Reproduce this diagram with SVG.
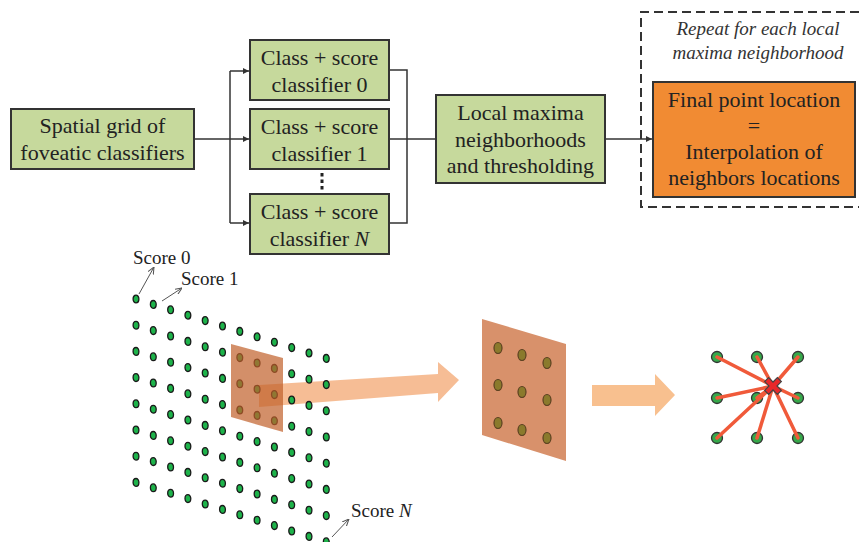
<svg xmlns="http://www.w3.org/2000/svg" xmlns:xlink="http://www.w3.org/1999/xlink" width="859" height="542" viewBox="0 0 859 542">
  <style>
    .box { fill: #c6d99c; stroke: #333; stroke-width: 2; }
    .obox { fill: #f18b33; stroke: #333; stroke-width: 2; }
    text { font-family: 'Liberation Serif', 'DejaVu Serif', serif; }
    .lbl { font-size: 22px; fill: #222; text-anchor: middle; }
    .note { font-size: 19px; font-style: italic; fill: #333; text-anchor: middle; }
    .score { font-size: 19px; fill: #222; }
    .wire { fill: none; stroke: #333; stroke-width: 1.5; }
    .thin { fill: none; stroke: #555; stroke-width: 1; }
    .gdot { fill: #1db34a; stroke: #1a1a1a; stroke-width: 1.3; }
    .odot { fill: #8a7a2c; stroke: #5a4020; stroke-width: 1.2; }
    .rdot { fill: #36a84a; stroke: #333; stroke-width: 1.3; }
    .ray { stroke: #f05a3a; stroke-width: 3.5; stroke-linecap: round; }
  </style>
  <defs>
    <marker id="ah" viewBox="0 0 6 6" refX="6" refY="3" markerWidth="6" markerHeight="6" markerUnits="userSpaceOnUse" orient="auto">
      <path d="M0,0 L6,3 L0,6 Z" fill="#333"/>
    </marker>
    <marker id="ahs" viewBox="0 0 8 8" refX="8" refY="4" markerWidth="7" markerHeight="7" markerUnits="userSpaceOnUse" orient="auto">
      <path d="M0,0.5 L8,4 L0,7.5" fill="none" stroke="#555" stroke-width="1.2"/>
    </marker>
    <!-- one column of score dots, 8 rows -->
    <g id="col">
      <ellipse class="gdot" cx="0" cy="0" rx="2.9" ry="3.9"/>
      <ellipse class="gdot" cx="0" cy="26.2" rx="2.9" ry="3.9"/>
      <ellipse class="gdot" cx="0" cy="52.4" rx="2.9" ry="3.9"/>
      <ellipse class="gdot" cx="0" cy="78.6" rx="2.9" ry="3.9"/>
      <ellipse class="gdot" cx="0" cy="104.8" rx="2.9" ry="3.9"/>
      <ellipse class="gdot" cx="0" cy="131" rx="2.9" ry="3.9"/>
      <ellipse class="gdot" cx="0" cy="157.2" rx="2.9" ry="3.9"/>
      <ellipse class="gdot" cx="0" cy="183.4" rx="2.9" ry="3.9"/>
    </g>
  </defs>

  <!-- connectors -->
  <g id="connectors">
    <path class="wire" d="M194,139 H249" marker-end="url(#ah)"/>
    <path class="wire" d="M230,71 V223"/>
    <path class="wire" d="M230,71 H249" marker-end="url(#ah)"/>
    <path class="wire" d="M230,223 H249" marker-end="url(#ah)"/>
    <path class="wire" d="M389,70 H407 V223 H389"/>
    <path class="wire" d="M389,139 H436"/>
    <path class="wire" d="M605,139 H652" marker-end="url(#ah)"/>
  </g>

  <!-- flow nodes -->
  <g id="spatial-grid">
    <rect class="box" x="11" y="109" width="183" height="60"/>
    <text class="lbl" x="102.5" y="133">Spatial grid of</text>
    <text class="lbl" x="102.5" y="160">foveatic classifiers</text>
  </g>
  <g id="classifier-0">
    <rect class="box" x="250" y="40" width="139" height="60"/>
    <text class="lbl" x="319.5" y="65">Class + score</text>
    <text class="lbl" x="319.5" y="92">classifier 0</text>
  </g>
  <g id="classifier-1">
    <rect class="box" x="250" y="109" width="139" height="60"/>
    <text class="lbl" x="319.5" y="134">Class + score</text>
    <text class="lbl" x="319.5" y="161">classifier 1</text>
  </g>
  <g id="ellipsis">
    <rect x="320.5" y="173" width="3" height="3.5" fill="#222"/>
    <rect x="320.5" y="179.5" width="3" height="3.5" fill="#222"/>
    <rect x="320.5" y="186" width="3" height="3.5" fill="#222"/>
  </g>
  <g id="classifier-n">
    <rect class="box" x="250" y="194" width="139" height="60"/>
    <text class="lbl" x="319.5" y="219">Class + score</text>
    <text class="lbl" x="319.5" y="246">classifier <tspan font-style="italic">N</tspan></text>
  </g>
  <g id="local-maxima">
    <rect class="box" x="436" y="95" width="169" height="88"/>
    <text class="lbl" x="520.5" y="120">Local maxima</text>
    <text class="lbl" x="520.5" y="147">neighborhoods</text>
    <text class="lbl" x="520.5" y="173">and thresholding</text>
  </g>
  <g id="repeat-region">
    <path d="M859,12 H641 V207 H859" fill="none" stroke="#333" stroke-width="2" stroke-dasharray="9 5"/>
    <text class="note" x="758" y="35">Repeat for each local</text>
    <text class="note" x="758" y="59">maxima neighborhood</text>
  </g>
  <g id="final-point">
    <rect class="obox" x="653" y="82" width="202" height="115"/>
    <text class="lbl" x="754" y="107">Final point location</text>
    <text class="lbl" x="754" y="133">=</text>
    <text class="lbl" x="754" y="159">Interpolation of</text>
    <text class="lbl" x="754" y="185">neighbors locations</text>
  </g>

  <!-- score grid with selected neighborhood -->
  <g id="score-grid">
    <path d="M259,385 L438,374 L438,362 L459,380 L438,402 L438,393 L259,407 Z" fill="#f4b183" opacity="0.85"/>
    <use xlink:href="#col" x="136" y="299"/>
    <use xlink:href="#col" x="153.3" y="304.4"/>
    <use xlink:href="#col" x="170.6" y="309.8"/>
    <use xlink:href="#col" x="187.9" y="315.2"/>
    <use xlink:href="#col" x="205.2" y="320.6"/>
    <use xlink:href="#col" x="222.5" y="326"/>
    <use xlink:href="#col" x="239.8" y="331.4"/>
    <use xlink:href="#col" x="257.1" y="336.8"/>
    <use xlink:href="#col" x="274.4" y="342.2"/>
    <use xlink:href="#col" x="291.7" y="347.6"/>
    <use xlink:href="#col" x="309" y="353"/>
    <use xlink:href="#col" x="326.3" y="358.4"/>
    <path d="M231,344 L283,358 L283,432 L231,417 Z" fill="#c0602a" opacity="0.7"/>
    <text class="score" x="133" y="264">Score 0</text>
    <text class="score" x="181" y="285">Score 1</text>
    <text class="score" x="351" y="517">Score <tspan font-style="italic">N</tspan></text>
    <path class="thin" d="M139,294 L154,267" marker-end="url(#ahs)"/>
    <path class="thin" d="M162,301 L182,288" marker-end="url(#ahs)"/>
    <path class="thin" d="M332,537 L349,519" marker-end="url(#ahs)"/>
  </g>

  <!-- extracted neighborhood -->
  <g id="neighborhood">
    <path d="M482,319 L566,344 L566,461 L482,435 Z" fill="#d8916b"/>
    <ellipse class="odot" cx="498" cy="348" rx="4" ry="5.5"/>
    <ellipse class="odot" cx="522" cy="355" rx="4" ry="5.5"/>
    <ellipse class="odot" cx="547" cy="363" rx="4" ry="5.5"/>
    <ellipse class="odot" cx="498" cy="385" rx="4" ry="5.5"/>
    <ellipse class="odot" cx="522" cy="392" rx="4" ry="5.5"/>
    <ellipse class="odot" cx="547" cy="400" rx="4" ry="5.5"/>
    <ellipse class="odot" cx="498" cy="423" rx="4" ry="5.5"/>
    <ellipse class="odot" cx="522" cy="430" rx="4" ry="5.5"/>
    <ellipse class="odot" cx="547" cy="438" rx="4" ry="5.5"/>
    <path d="M592,385 L655,385 L655,374 L675,395 L655,416 L655,406 L592,406 Z" fill="#f8c08f"/>
  </g>

  <!-- interpolated point -->
  <g id="interpolation">
    <circle class="rdot" cx="717" cy="357" r="5.5"/>
    <circle class="rdot" cx="757" cy="357" r="5.5"/>
    <circle class="rdot" cx="798" cy="357" r="5.5"/>
    <circle class="rdot" cx="717" cy="398" r="5.5"/>
    <circle class="rdot" cx="757" cy="398" r="5.5"/>
    <circle class="rdot" cx="798" cy="398" r="5.5"/>
    <circle class="rdot" cx="717" cy="438" r="5.5"/>
    <circle class="rdot" cx="757" cy="438" r="5.5"/>
    <circle class="rdot" cx="798" cy="438" r="5.5"/>
    <line class="ray" x1="773" y1="386" x2="717" y2="357"/>
    <line class="ray" x1="773" y1="386" x2="757" y2="357"/>
    <line class="ray" x1="773" y1="386" x2="798" y2="357"/>
    <line class="ray" x1="773" y1="386" x2="717" y2="398"/>
    <line class="ray" x1="773" y1="386" x2="757" y2="398"/>
    <line class="ray" x1="773" y1="386" x2="798" y2="398"/>
    <line class="ray" x1="773" y1="386" x2="717" y2="438"/>
    <line class="ray" x1="773" y1="386" x2="757" y2="438"/>
    <line class="ray" x1="773" y1="386" x2="798" y2="438"/>
    <path transform="translate(773,386) rotate(45)" d="M-9,-2.8 H-2.8 V-9 H2.8 V-2.8 H9 V2.8 H2.8 V9 H-2.8 V2.8 H-9 Z" fill="#e8282a" stroke="#444" stroke-width="1.2"/>
  </g>
</svg>
